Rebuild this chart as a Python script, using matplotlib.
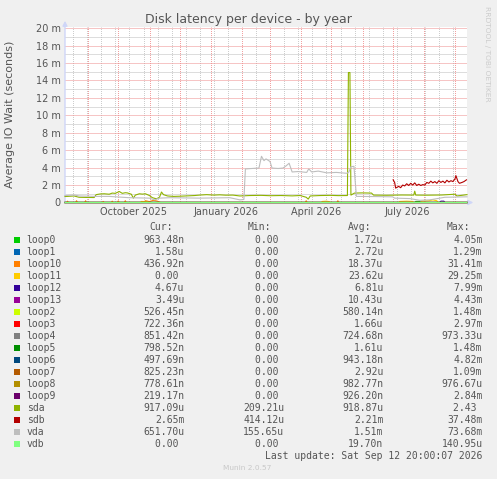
import numpy as np
import matplotlib
matplotlib.use("Agg")
import matplotlib.pyplot as plt
import matplotlib.dates as mdates
from matplotlib.ticker import FuncFormatter, MultipleLocator, FixedLocator, NullFormatter
from matplotlib.patches import Rectangle
from datetime import datetime, timedelta

W, H = 497, 479
START = datetime(2025, 8, 8, 20, 0)
END = datetime(2026, 9, 12, 20, 0)

# --- series: day offset from START, value in ms ---
sda_day = [0, 1, 5, 9, 14, 22, 29, 31, 35, 39, 44, 47, 50, 54, 57, 60, 62, 66, 68, 70,
           74, 77, 80, 84, 87, 91, 94, 96, 98, 102, 108, 114, 122, 129, 135, 141, 148,
           154, 160, 167, 174, 184, 195, 204, 215, 226, 234, 240, 242, 244, 254, 264,
           272, 281, 282, 283.5, 284.5, 288, 296, 305, 307, 320, 335, 347, 348, 349,
           360, 375, 388, 390, 400]
sda_ms = [0.69, 0.69, 0.72, 0.75, 0.6, 0.58, 0.57, 0.9, 0.98, 1.0, 0.95, 1.08, 1.05, 1.26,
          1.05, 1.12, 1.1, 0.95, 0.5, 0.85, 1.0, 0.96, 1.0, 0.8, 0.55, 0.42, 0.6, 1.2, 0.9,
          0.75, 0.7, 0.72, 0.76, 0.8, 0.86, 0.9, 0.85, 0.88, 0.84, 0.85, 0.75, 0.8, 0.82,
          0.78, 0.8, 0.76, 0.8, 0.6, 0.39, 0.75, 0.8, 0.82, 0.79, 0.8, 14.9, 14.9, 0.85,
          1.08, 1.1, 1.08, 0.85, 0.83, 0.86, 0.85, 1.3, 0.85, 0.84, 0.86, 0.95, 0.75, 0.9]

vda_day = [0, 1, 9, 14, 30, 44, 64, 84, 89, 94, 104, 134, 164, 174, 178, 179.5, 186, 193,
           195.5, 198, 200, 204, 206, 212, 217, 220, 223, 226, 232, 240.5, 242.5, 245.5,
           252, 260.5, 270, 280.5, 282.5, 284.5, 287.5, 290, 310, 326, 328, 343, 353, 363,
           373, 378, 400]
vda_ms = [0.8, 0.8, 0.86, 0.75, 0.7, 0.7, 0.55, 0.5, 0.3, 0.5, 0.55, 0.5, 0.55, 0.3, 0.35,
          3.85, 3.9, 3.95, 5.3, 4.8, 5.0, 4.7, 3.95, 3.9, 3.95, 4.2, 4.5, 3.5, 3.55, 3.45,
          3.85, 3.5, 3.6, 3.4, 3.45, 3.35, 3.5, 4.1, 4.15, 0.7, 0.68, 0.65, 0.5, 0.45, 0.25,
          0.3, 0.5, 0.6, 0.65]

sdb_day = [326.5, 328, 329, 332, 334, 336, 338, 340, 342, 344, 346, 348, 350, 352, 354,
           356, 358, 360, 362, 364, 366, 368, 370, 372, 374, 376, 378, 380, 382, 384, 386,
           388, 389, 391, 392.5, 395, 397, 399.5]
sdb_ms = [2.6, 2.3, 1.65, 1.85, 1.7, 2.0, 1.9, 2.15, 1.95, 2.2, 2.0, 2.25, 1.95, 2.1, 1.95,
          2.05, 2.0, 2.3, 2.2, 2.45, 2.25, 2.4, 2.2, 2.5, 2.3, 2.45, 2.25, 2.55, 2.35, 2.5,
          2.4, 2.7, 3.07, 2.4, 2.2, 2.3, 2.4, 2.6]

loop10_day = [0, 1.5, 2.5, 3.5, 10.5, 11.5, 12.5, 19.5, 20.5, 21.5, 37, 38, 39, 46, 47, 48,
              52, 53, 54, 59, 60, 61, 78, 80, 84, 88, 92, 95, 239, 240, 241, 270.5, 271.5,
              272.5, 400]
loop10_ms = [0, 0, 0.15, 0, 0, 0.2, 0, 0, 0.2, 0, 0, 0.12, 0, 0, 0.15, 0, 0, 0.18, 0, 0,
             0.2, 0, 0, 0.2, 0.1, 0.25, 0.15, 0, 0, 0.2, 0, 0, 0.2, 0, 0]
loop11_day = [0, 75, 76, 79, 82, 83, 255, 256, 260, 263, 264, 332, 333, 340, 346, 347, 354,
              355, 362, 366, 370, 371, 400]
loop11_ms = [0, 0, 0.12, 0.1, 0.12, 0, 0, 0.12, 0.15, 0.1, 0, 0, 0.12, 0.15, 0.12, 0, 0,
             0.15, 0.2, 0.3, 0.2, 0, 0]
loop0_day = [0, 348, 349, 353, 354, 400]
loop0_ms = [0, 0, 0.12, 0.12, 0, 0]
loop12_day = [0, 373, 374, 377, 378, 400]
loop12_ms = [0, 0, 0.15, 0.15, 0, 0]
flat_day = [0, 400]
flat_ms = [0, 0]

# --- legend table ---
names = ['loop0', 'loop1', 'loop10', 'loop11', 'loop12', 'loop13', 'loop2', 'loop3',
         'loop4', 'loop5', 'loop6', 'loop7', 'loop8', 'loop9', 'sda', 'sdb', 'vda', 'vdb']
colors = ['#00CC00', '#0066B3', '#FF8000', '#FFCC00', '#330099', '#990099', '#CCFF00',
          '#FF0000', '#808080', '#008F00', '#00487D', '#B35A00', '#B38F00', '#6B006B',
          '#8FB300', '#B30000', '#BEBEBE', '#80FF80']
cur = [963.48e-9, 1.58e-6, 436.92e-9, 0, 4.67e-6, 3.49e-6, 526.45e-9, 722.36e-9,
       851.42e-9, 798.52e-9, 497.69e-9, 825.23e-9, 778.61e-9, 219.17e-9, 917.09e-6,
       2.65e-3, 651.70e-6, 0]
mins = [0] * 14 + [209.21e-6, 414.12e-6, 155.65e-6, 0]
avg = [1.72e-6, 2.72e-6, 18.37e-6, 23.62e-6, 6.81e-6, 10.43e-6, 580.14e-9, 1.66e-6,
       724.68e-9, 1.61e-6, 943.18e-9, 2.92e-6, 982.77e-9, 926.20e-9, 918.87e-6, 2.21e-3,
       1.51e-3, 19.70e-9]
maxs = [4.05e-3, 1.29e-3, 31.41e-3, 29.25e-3, 7.99e-3, 4.43e-3, 1.48e-3, 2.97e-3,
        973.33e-6, 1.48e-3, 4.82e-3, 1.09e-3, 976.67e-6, 2.84e-3, 2.43, 37.48e-3,
        73.68e-3, 140.95e-6]

series = {n: (flat_day, flat_ms) for n in names}
series['loop0'] = (loop0_day, loop0_ms)
series['loop10'] = (loop10_day, loop10_ms)
series['loop11'] = (loop11_day, loop11_ms)
series['loop12'] = (loop12_day, loop12_ms)
series['sda'] = (sda_day, sda_ms)
series['sdb'] = (sdb_day, sdb_ms)
series['vda'] = (vda_day, vda_ms)


def si(v):
    if v == 0:
        return '0.00 '
    for f, s in [(1, ' '), (1e-3, 'm'), (1e-6, 'u'), (1e-9, 'n')]:
        if abs(v) >= f * 0.9995:
            return f'{v / f:.2f}{s}'
    return f'{v:.2f} '


def fx(px):
    return px / W


def fy(py):
    return 1 - py / H


TXT = '#555555'
fig = plt.figure(figsize=(W / 100, H / 100), dpi=100, facecolor='#F0F0F0')
ax = fig.add_axes([fx(65), fy(202.5), (467 - 65) / W, (202.5 - 26.5) / H])
ax.set_facecolor('white')
for s in ax.spines.values():
    s.set_visible(False)

# axes with arrows (drawn under the series, like rrdtool's zero line)
arrow = dict(arrowstyle='-|>', color='#CFD6F8', lw=1.0, mutation_scale=7, shrinkA=0, shrinkB=0)
ax.annotate('', xy=(1 + 6.3 / 402, 0), xytext=(0, 0), xycoords='axes fraction',
            arrowprops=arrow, annotation_clip=False, zorder=2.5)
ax.annotate('', xy=(0, 1 + 5.7 / 176.0), xytext=(0, 0), xycoords='axes fraction',
            arrowprops=arrow, annotation_clip=False, zorder=2.5)

for i, n in enumerate(names):
    d, v = series[n]
    t = [START + timedelta(days=x) for x in d]
    ax.plot(t, v, color=colors[i], lw=0.8, zorder=3 + i * 0.01, clip_on=False, snap=False)

ax.set_xlim(START, END)
ax.set_ylim(0, 20.18)

# grids
ax.yaxis.set_major_locator(MultipleLocator(2))
ax.yaxis.set_minor_locator(MultipleLocator(1))
ax.yaxis.set_major_formatter(FuncFormatter(lambda v, p: '0' if v == 0 else f'{v:.0f} m'))
ax.xaxis.set_major_locator(mdates.MonthLocator())
ax.xaxis.set_major_formatter(NullFormatter())
minor_x = [mdates.date2num(datetime(2025, 8, 17) + timedelta(days=14 * k)) for k in range(29)]
ax.xaxis.set_minor_locator(FixedLocator(minor_x))
ax.set_axisbelow(True)
ax.yaxis.grid(True, which='minor', color='#BDBDBD', lw=0.72, ls=(0, (1, 1)))
ax.yaxis.grid(True, which='major', color='#EE8C8C', lw=0.72, ls=(0, (1, 1)))
ax.xaxis.grid(True, which='minor', color='#CDCDCD', lw=0.72, ls=(0.5, (1, 1)))
ax.xaxis.grid(True, which='major', color='#F2A0A0', lw=0.72, ls=(0.5, (1, 1)))
ax.tick_params(which='both', length=0)
ax.tick_params(axis='y', pad=3.2, labelsize=7, labelcolor=TXT)

for lab, dt in [('October 2025', datetime(2025, 10, 15, 12)), ('January 2026', datetime(2026, 1, 16)),
                ('April 2026', datetime(2026, 4, 15, 12)), ('July 2026', datetime(2026, 7, 15))]:
    ax.text(dt, -9.8 / 176.0, lab, transform=ax.get_xaxis_transform(), ha='center', va='center',
            fontsize=7, color=TXT)

fig.text(0.5, fy(19.3), 'Disk latency per device - by year', ha='center', va='center',
         fontsize=9, color=TXT)
fig.text(fx(10), fy(114), 'Average IO Wait (seconds)', rotation=90, ha='center', va='center',
         fontsize=8, color=TXT)
fig.text(fx(486.7), fy(53.5), 'RRDTOOL / TOBI OETIKER', rotation=270, ha='center', va='center',
         fontsize=5.4, color='#CCCCCC')

# legend
mono = 'DejaVu Sans Mono'
for hdr, x in [('Cur:', 149), ('Min:', 248), ('Avg:', 348), ('Max:', 447)]:
    fig.text(fx(x), fy(226.7), hdr, ha='left', va='center', fontsize=7, family=mono, color=TXT)
for i, n in enumerate(names):
    y = 240 + 12 * i
    fig.patches.append(Rectangle((fx(14), fy(y + 3)), 6 / W, 6 / H, transform=fig.transFigure,
                                 facecolor=colors[i], edgecolor='none'))
    fig.text(fx(26.7), fy(y), n, ha='left', va='center', fontsize=7, family=mono, color=TXT)
    for val, xr in [(cur[i], 184.3), (mins[i], 284.3), (avg[i], 383.3), (maxs[i], 482.7)]:
        fig.text(fx(xr), fy(y), si(val), ha='right', va='center', fontsize=7, family=mono, color=TXT)
fig.text(fx(482.7), fy(455.7), 'Last update: Sat Sep 12 20:00:07 2026', ha='right', va='center',
         fontsize=7, family=mono, color=TXT)
fig.text(fx(247.5), fy(467.7), 'Munin 2.0.57', ha='center', va='center', fontsize=5.3, color='#C8C8C8')

fig.savefig('out.png', dpi=100, facecolor=fig.get_facecolor())
